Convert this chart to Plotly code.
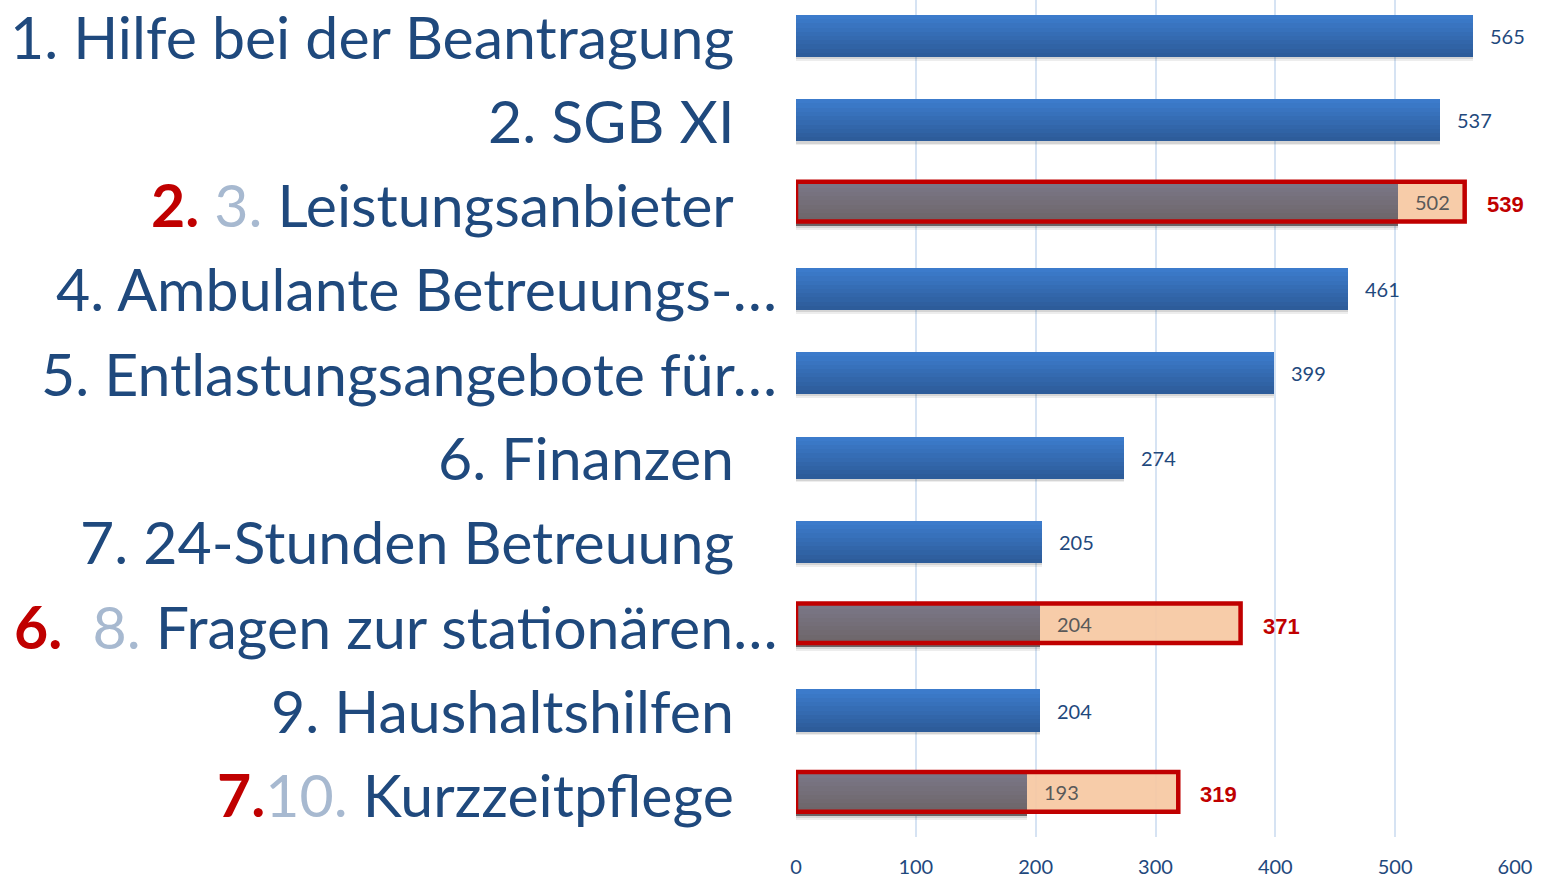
import plotly.graph_objects as go

# ---------------- data ----------------
ranks = ["1.", "2.", "3.", "4.", "5.", "6.", "7.", "8.", "9.", "10."]
names = ["Hilfe bei der Beantragung", "SGB XI", "Leistungsanbieter",
         "Ambulante Betreuungs-…", "Entlastungsangebote für…", "Finanzen",
         "24-Stunden Betreuung", "Fragen zur stationären…", "Haushaltshilfen",
         "Kurzzeitpflege"]
values = [565, 537, 502, 461, 399, 274, 205, 204, 204, 193]
new_ranks = [None, None, "2.", None, None, None, None, "6.", None, "7."]
new_values = [None, None, 539, None, None, None, None, 371, None, 319]
# extent of the highlighted (orange) bars as drawn in the picture
new_bar_ends = [None, None, 558, None, None, None, None, 371, None, 319]
x_ticks = [0, 100, 200, 300, 400, 500, 600]

# ---------------- style ----------------
NAVY = "#1F497D"
RED = "#C00000"
GREYNUM = "#A7B9D0"
FONT = "Lato"
W, H = 1546, 878
L, R, T, B = 796, 31, 0, 41

pos = list(range(len(names)))
highlight = [nv is not None for nv in new_values]

fig = go.Figure()


def lerp(c1, c2, t):
    a = [int(c1[i:i + 2], 16) for i in (1, 3, 5)]
    b = [int(c2[i:i + 2], 16) for i in (1, 3, 5)]
    return "rgb(%d,%d,%d)" % tuple(round(a[j] + (b[j] - a[j]) * t) for j in range(3))


BW = 0.5
# soft shadow under bars
for dy, alpha in [(0.045, 0.07), (0.025, 0.10)]:
    fig.add_trace(go.Bar(
        y=pos, x=values, orientation="h", width=BW, offset=-BW / 2 + dy,
        marker=dict(color="rgba(0,0,0,%.2f)" % alpha, line=dict(width=0)),
        hoverinfo="skip", showlegend=False))

# gradient strips for blue and grey bars
NS = 10
blue_vals = [v if not h else None for v, h in zip(values, highlight)]
grey_vals = [v if h else None for v, h in zip(values, highlight)]
for k in range(NS):
    t = k / (NS - 1)
    w = BW / NS
    extra = 0.01 if k < NS - 1 else 0
    fig.add_trace(go.Bar(
        y=pos, x=blue_vals, orientation="h", width=w + extra, offset=-BW / 2 + k * w,
        marker=dict(color=lerp("#3C7BCB", "#2D5C9A", t), line=dict(width=0)),
        hoverinfo="skip", showlegend=False))
    fig.add_trace(go.Bar(
        y=pos, x=grey_vals, orientation="h", width=w + extra, offset=-BW / 2 + k * w,
        marker=dict(color=lerp("#7A7686", "#6C6466", t), line=dict(width=0)),
        hoverinfo="skip", showlegend=False))

# orange extension to the new value
ext_base = [v if ne is not None else None for v, ne in zip(values, new_bar_ends)]
ext_len = [(ne - v) if ne is not None else None for v, ne in zip(values, new_bar_ends)]
fig.add_trace(go.Bar(
    y=pos, x=ext_len, base=ext_base, orientation="h", width=BW - 0.04,
    offset=-(BW - 0.04) / 2 - 0.03,
    marker=dict(color="rgba(246,200,162,0.93)", line=dict(width=0)),
    hoverinfo="skip", showlegend=False))

# red outline boxes
for i, ne in enumerate(new_bar_ends):
    if ne is None:
        continue
    fig.add_shape(type="rect", xref="x", yref="y", x0=0, x1=ne,
                  y0=i - 0.27, y1=i + 0.2,
                  line=dict(color=RED, width=4.5), fillcolor="rgba(0,0,0,0)",
                  layer="above")

annotations = []
# value labels
for i, v in enumerate(values):
    annotations.append(dict(
        x=v, y=i - (0.03 if highlight[i] else 0), xref="x", yref="y",
        xanchor="left", yanchor="middle",
        xshift=15, showarrow=False, text=str(v),
        font=dict(family=FONT, size=20, color="#595959" if highlight[i] else NAVY)))
    if new_values[i] is not None:
        annotations.append(dict(
            x=new_bar_ends[i], y=i, xref="x", yref="y", xanchor="left",
            yanchor="middle", xshift=20, showarrow=False,
            text="<b>%d</b>" % new_values[i],
            font=dict(family="Liberation Sans", size=22, color=RED)))

# category labels (left)
plot_w = W - L - R
for i, (rk, nm) in enumerate(zip(ranks, names)):
    if new_ranks[i] is not None:
        if len(rk) > 2:
            gap = ""
        elif nm.startswith("Fragen"):
            gap = "  "
        else:
            gap = " "
        txt = ('<span style="color:%s"><b>%s</b></span>%s'
               '<span style="color:%s">%s</span> %s') % (
            RED, new_ranks[i], gap, GREYNUM, rk, nm)
    else:
        txt = "%s %s" % (rk, nm)
    right_px = 779 if nm.endswith("…") else 736
    annotations.append(dict(
        x=(right_px - L) / plot_w, y=i, xref="paper", yref="y",
        xanchor="right", yanchor="middle", showarrow=False, text=txt,
        font=dict(family=FONT, size=59, color=NAVY)))

fig.update_layout(
    width=W, height=H,
    margin=dict(l=L, r=R, t=T, b=B),
    paper_bgcolor="white", plot_bgcolor="white",
    barmode="overlay", bargap=0,
    annotations=annotations,
    xaxis=dict(range=[0, 600], tickvals=x_ticks, showgrid=True,
               gridcolor="#D6E3F3", gridwidth=2, zeroline=False,
               showline=False, ticks="", ticklabelstandoff=16,
               tickfont=dict(family=FONT, size=20, color=NAVY)),
    yaxis=dict(range=[9.5, -0.427], showticklabels=False, showgrid=False,
               zeroline=False, showline=False, ticks=""),
)

fig.write_html("out.html",
               config={"displayModeBar": False},
               post_script="document.body.style.margin='0';"
                           "document.body.style.overflow='hidden';")
